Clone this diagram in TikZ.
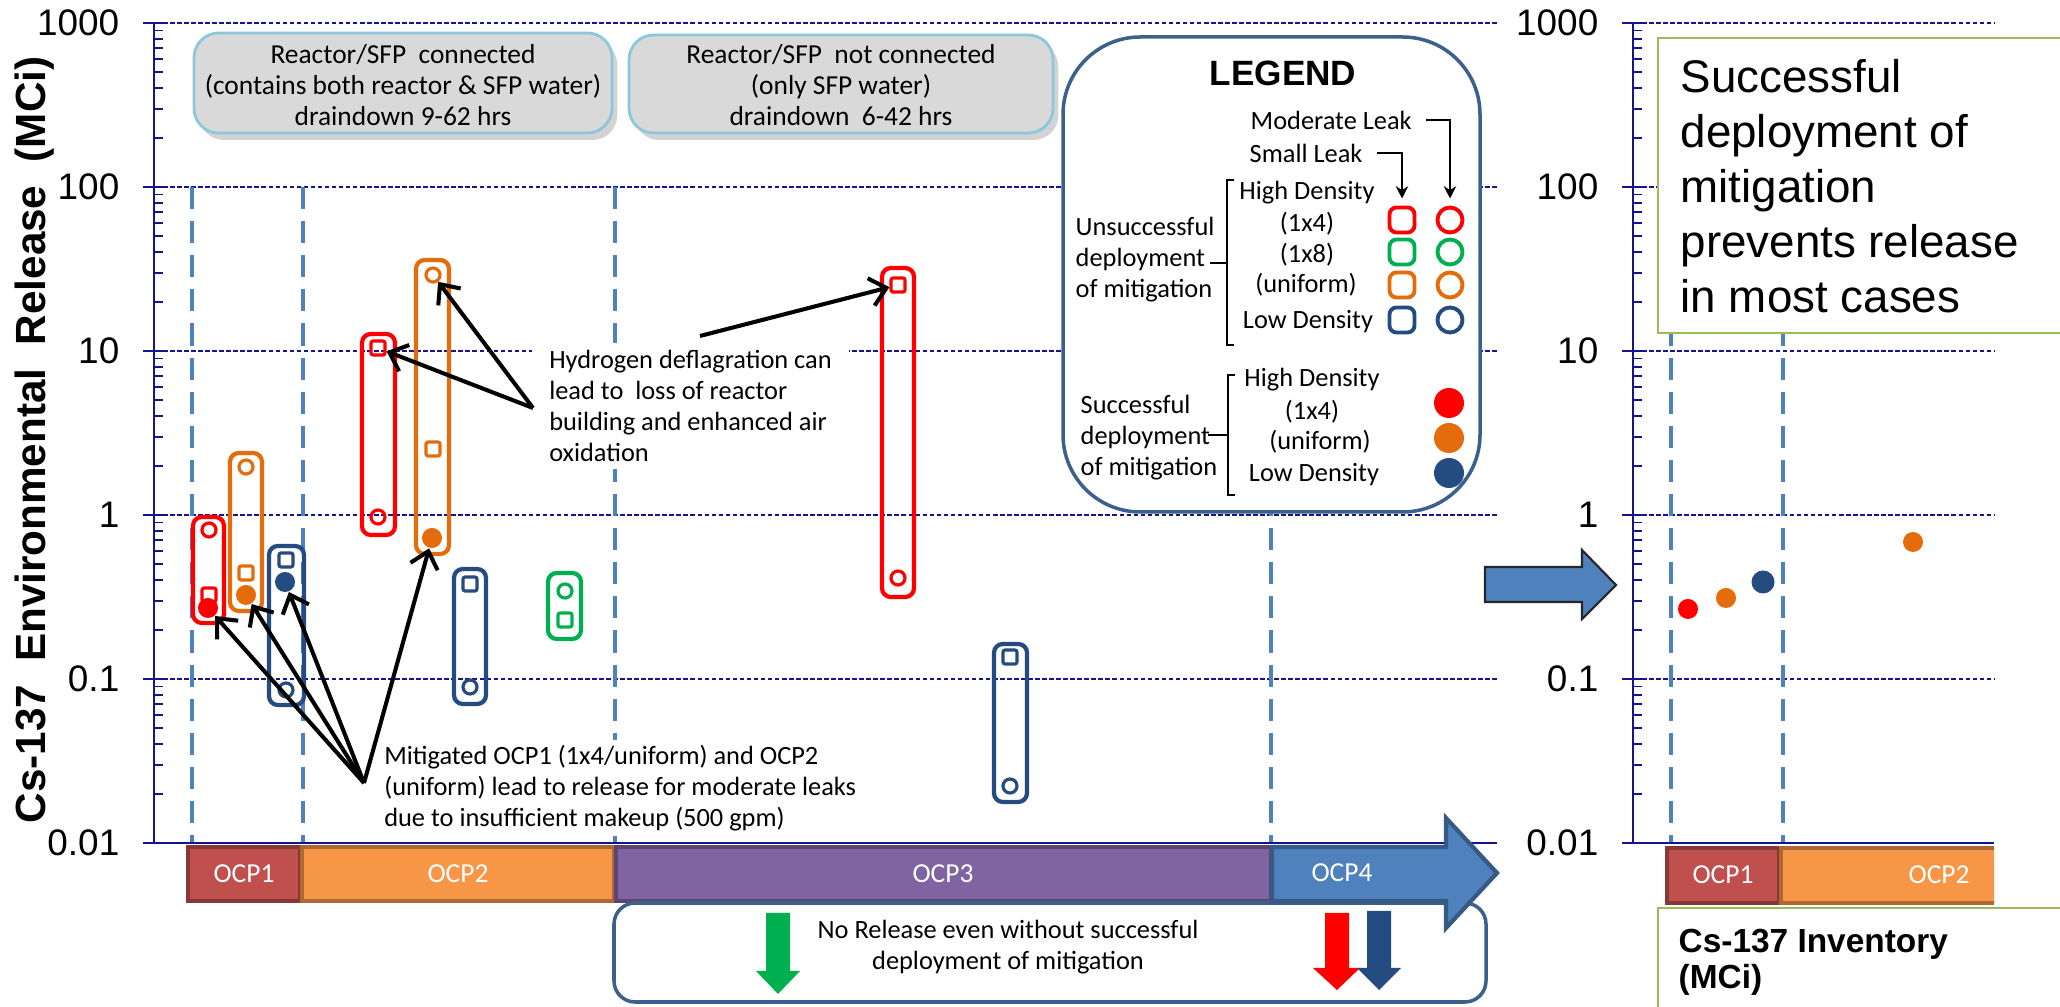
\documentclass[tikz,border=0pt]{standalone}
\usepackage{fontspec}
\setmainfont{Carlito}
\newfontfamily\arialfont{Liberation Sans}
\usetikzlibrary{arrows.meta,shadows}

\definecolor{gridnavy}{RGB}{20,20,140}
\definecolor{axisnavy}{RGB}{20,20,140}
\definecolor{dashblue}{RGB}{79,129,189}
\definecolor{mred}{RGB}{255,0,0}
\definecolor{morange}{RGB}{228,108,10}
\definecolor{mgreen}{RGB}{0,176,80}
\definecolor{mblue}{RGB}{36,76,128}
\definecolor{boxgray}{RGB}{217,217,217}
\definecolor{boxedge}{RGB}{140,200,220}
\definecolor{legedge}{RGB}{60,96,140}
\definecolor{lgreen}{RGB}{155,187,89}
\definecolor{ocpred}{RGB}{192,80,77}
\definecolor{ocporange}{RGB}{247,150,70}
\definecolor{ocppurple}{RGB}{128,100,162}
\definecolor{ocpblue}{RGB}{79,129,189}

\begin{document}
\begin{tikzpicture}[x=0.01cm, y=-0.01cm,
    gridln/.style={gridnavy, line width=0.45pt, dash pattern=on 1.3pt off 0.7pt},
    axisln/.style={axisnavy, line width=0.75pt},
    vdash/.style={dashblue, line width=0.95pt, dash pattern=on 6.3pt off 3.4pt},
    ticklbl/.style={font=\arialfont\fontsize{10.5}{12}\selectfont, anchor=east, inner sep=0pt},
    pbox/.style={draw=#1, line width=1.2pt, rounded corners=2.5pt},
    osq/.style={draw=#1, line width=0.9pt, rectangle, minimum size=0.14cm, inner sep=0pt, rounded corners=0.6pt},
    ocirc/.style={draw=#1, line width=0.9pt, circle, minimum size=0.14cm, inner sep=0pt},
    fdot/.style={fill=#1, circle, minimum size=0.20cm, inner sep=0pt},
    legmark/.style={minimum size=0.25cm, line width=1.1pt},
    legtxt/.style={font=\fontsize{7.5}{8.8}\selectfont, inner sep=0pt},
    headtxt/.style={font=\fontsize{7.8}{8.8}\selectfont, align=center},
    note/.style={font=\fontsize{7.5}{8.8}\selectfont, align=left, fill=white, inner xsep=5pt, inner ysep=2pt},
    hint/.style={-{Straight Barb[length=4.5pt,width=8pt]}, line width=1.15pt},
    ocpbar/.style={fill=#1, draw=#1!70!black, line width=1.2pt},
    ocptxt/.style={text=white, font=\fontsize{7.8}{9}\selectfont},
    headbox/.style={fill=boxgray, draw=boxedge, line width=0.8pt, rounded corners=7pt,
      drop shadow={shadow xshift=1.5pt, shadow yshift=-2pt, opacity=0.35}},
    greenbox/.style={fill=white, draw=lgreen, line width=0.6pt},
  ]
  \useasboundingbox (0,0) rectangle (2060,1007);
  \clip (0,0) rectangle (2060,1007);

  % grid lines and phase boundaries
  \foreach \d in {1,...,5}{
    \draw[gridln] (163,{843-164*\d}) -- (1497,{843-164*\d});
    \draw[gridln] (1642,{843-164*\d}) -- (1994,{843-164*\d});
  }
  \foreach \x in {192,303,615,1271,1671,1783}
    \draw[vdash] (\x,187) -- (\x,843);

  % log axes
  \foreach \ax/\xr/\nm in {154/1497/a,1633/1994/b}{
    \draw[axisln] (\ax,23) -- (\ax,843);
    \draw[axisln] (\ax-11,843) -- (\xr,843);
    \foreach \v [count=\i from 0] in {0.01,0.1,1,10,100,1000}{
      \draw[axisln] (\ax-11,{843-164*\i}) -- (\ax+9,{843-164*\i});
      \node[ticklbl] (\nm\i) at (\ax-34,{843-164*\i}) {\v};
    }
    \foreach \d in {0,...,4}\foreach \k in {2,...,9}
      \draw[axisln, line width=0.55pt] (\ax,{843-164*(\d+log10(\k))}) -- ++(9,0);
  }
  \node[rotate=90, anchor=base, inner sep=0pt, font=\arialfont\bfseries\fontsize{12}{14}\selectfont]
    (ylab) at (45,440) {Cs-137\ \ Environmental\ \ Release\ \ (MCi)};

  % header boxes
  \draw[headbox] (194,33) rectangle (612,133);
  \draw[headbox] (629,35) rectangle (1053,133);
  \node[headtxt] (conn) at (403,85) {Reactor/SFP\ \ connected\\(contains both reactor \& SFP water)\\draindown 9-62 hrs};
  \node[headtxt] (noconn) at (841,85) {Reactor/SFP\ \ not connected\\(only SFP water)\\draindown\ \ 6-42 hrs};

  % legend
  \draw[legedge, line width=1pt, fill=white, rounded corners=22pt] (1063,37) rectangle (1480,512);
  \node[font=\arialfont\bfseries\fontsize{10}{12}\selectfont] (legtitle) at (1283,73) {LEGEND};
  \node[legtxt, anchor=west] (modlk) at (1250,120) {Moderate Leak};
  \node[legtxt, anchor=west] (smlk) at (1249,153) {Small Leak};
  \node[legtxt, anchor=west, align=left] (unsc) at (1075,260) {Unsuccessful\\deployment\\of mitigation};
  \node[legtxt] (hd1) at (1307,193) {High Density};
  \node[legtxt] (x14a) at (1307,224) {(1x4)};
  \node[legtxt] (x18) at (1307,255) {(1x8)};
  \node[legtxt] (unia) at (1306,285) {(uniform)};
  \node[legtxt] (low1) at (1308,322) {Low Density};
  \node[legtxt, anchor=west, align=left] (succ) at (1080,438) {Successful\\deployment\\of mitigation};
  \node[legtxt] (hd2) at (1312,380) {High Density};
  \node[legtxt] (x14b) at (1312,412) {(1x4)};
  \node[legtxt] (unib) at (1320,442) {(uniform)};
  \node[legtxt] (low2) at (1314,475) {Low Density};
  \draw[line width=0.6pt] (1234,180) -- (1227,180) -- (1227,345) -- (1234,345) (1227,263) -- (1210,263);
  \draw[line width=0.6pt] (1235,375) -- (1228,375) -- (1228,495) -- (1235,495) (1228,435) -- (1208,435);
  \foreach \c/\y [count=\i] in {mred/220,mgreen/252,morange/285,mblue/320}{
    \node[osq=\c, legmark, rounded corners=2pt] (ls\i) at (1402,\y) {};
    \node[ocirc=\c, legmark] (lc\i) at (1450,\y) {};
  }
  \foreach \c/\y [count=\i] in {mred/403,morange/438,mblue/473}
    \node[fdot=\c, minimum size=0.30cm] (lf\i) at (1449,\y) {};
  \draw[-{Stealth[length=3.5pt,width=3.5pt]}, line width=0.5pt] ([xshift=4pt]modlk.east) -| ([yshift=2pt]lc1.north);
  \draw[-{Stealth[length=3.5pt,width=3.5pt]}, line width=0.5pt] ([xshift=4pt]smlk.east) -| ([yshift=2pt]ls1.north);

  % annotations
  \node[note, anchor=west] (hnote) at (531,406) {Hydrogen deflagration can\\lead to\ \ loss of reactor\\building and enhanced air\\oxidation};
  \node[note, anchor=west, inner ysep=1.5pt] (mnote) at (366,788) {Mitigated OCP1 (1x4/uniform) and OCP2\\(uniform) lead to release for moderate leaks\\due to insufficient makeup (500 gpm)};

  % release ranges
  \draw[pbox=mred] (193,517) rectangle (224,623);
  \draw[pbox=morange] (230,453) rectangle (262,611);
  \draw[pbox=mblue] (269,546) rectangle (304,705);
  \draw[pbox=mred] (362,334) rectangle (395,535);
  \draw[pbox=morange] (416,260) rectangle (449,554);
  \draw[pbox=mblue] (454,569) rectangle (486,704);
  \draw[pbox=mgreen] (548,573) rectangle (581,639);
  \draw[pbox=mred] (882,268) rectangle (914,597);
  \draw[pbox=mblue] (994,644) rectangle (1027,802);

  % cases
  \node[ocirc=mred] (r1c) at (209,530) {};
  \node[osq=mred] (r1s) at (209,595) {};
  \node[fdot=mred] (r1d) at (208,608) {};
  \node[ocirc=morange] (o1c) at (246,467) {};
  \node[osq=morange] (o1s) at (246,573) {};
  \node[fdot=morange] (o1d) at (246,595) {};
  \node[osq=mblue] (b1s) at (286,560) {};
  \node[fdot=mblue] (b1d) at (285,582) {};
  \node[ocirc=mblue] (b1c) at (286,690) {};
  \node[osq=mred] (r2s) at (378,348) {};
  \node[ocirc=mred] (r2c) at (378,517) {};
  \node[ocirc=morange] (o2c) at (433,275) {};
  \node[osq=morange] (o2s) at (433,449) {};
  \node[fdot=morange] (o2d) at (432,538) {};
  \node[osq=mblue] (b2s) at (470,584) {};
  \node[ocirc=mblue] (b2c) at (470,687) {};
  \node[ocirc=mgreen] (g2c) at (565,591) {};
  \node[osq=mgreen] (g2s) at (565,620) {};
  \node[osq=mred] (r3s) at (898,285) {};
  \node[ocirc=mred] (r3c) at (898,578) {};
  \node[osq=mblue] (b3s) at (1010,657) {};
  \node[ocirc=mblue] (b3c) at (1010,786) {};

  % callout arrows
  \coordinate (hfoot) at (533,408);
  \coordinate (htop) at (700,336);
  \coordinate (mfoot) at (364,783);
  \draw[hint] (hfoot) -- (r2s);
  \draw[hint] (hfoot) -- (o2c);
  \draw[hint] (htop) -- (r3s);
  \foreach \t in {r1d,o1d,b1d,o2d}
    \draw[hint] (mfoot) -- (\t);

  % operating phases
  \draw[ocpbar=ocpred] (188,847) rectangle (300,901);
  \draw[ocpbar=ocporange] (302,847) rectangle (614,901);
  \draw[ocpbar=ocppurple] (616,847) rectangle (1271,901);
  \node[ocptxt] (ocp1) at (244,874) {OCP1};
  \node[ocptxt] (ocp2) at (458,874) {OCP2};
  \node[ocptxt] (ocp3) at (943,874) {OCP3};

  % no release box
  \draw[legedge, line width=1pt, fill=white, rounded corners=6pt] (614,903) rectangle (1486,1002);
  \node[font=\fontsize{7.5}{8.8}\selectfont, align=center] (norel) at (1008,947) {No Release even without successful\\deployment of mitigation};
  \fill[mgreen] (766,913) -- (790,913) -- (790,971) -- (800,971) -- (778,994) -- (756,971) -- (766,971) -- cycle;
  \fill[mred] (1325,913) -- (1349,913) -- (1349,968) -- (1360,968) -- (1337,990) -- (1313,968) -- (1325,968) -- cycle;
  \fill[mblue] (1367,911) -- (1391,911) -- (1391,968) -- (1401,968) -- (1379,990) -- (1357,968) -- (1367,968) -- cycle;

  \draw[ocpbar=ocpblue] (1272,847) -- (1446,847) -- (1446,818) -- (1497,873) -- (1446,928) -- (1446,901) -- (1272,901) -- cycle;
  \node[ocptxt] (ocp4) at (1342,873) {OCP4};

  % right plot
  \draw[greenbox] (1658,38) rectangle (2075,333);
  \node[anchor=west, align=left, inner sep=0pt, font=\arialfont\fontsize{13}{15.6}\selectfont]
    (prev) at (1680,186) {Successful\\deployment of\\mitigation\\prevents release\\in most cases};
  \node[fdot=mred, minimum size=0.2cm] (rd1) at (1688,609) {};
  \node[fdot=morange, minimum size=0.2cm] (rd2) at (1726,598) {};
  \node[fdot=mblue, minimum size=0.23cm] (rd3) at (1763,582) {};
  \node[fdot=morange, minimum size=0.2cm] (rd4) at (1913,542) {};
  \begin{scope}
    \clip (1600,830) rectangle (1994,915);
    \draw[ocpbar=ocpred] (1667,848) rectangle (1779,903);
    \draw[ocpbar=ocporange] (1781,848) rectangle (2098,903);
    \node[ocptxt] (rocp1) at (1723,875) {OCP1};
    \node[ocptxt] (rocp2) at (1939,875) {OCP2};
  \end{scope}
  \draw[greenbox] (1658,908) rectangle (2075,1020);
  \node[anchor=west, align=left, inner sep=0pt, font=\arialfont\bfseries\fontsize{9.5}{10.2}\selectfont]
    (inv) at (1678,962) {Cs-137 Inventory\\(MCi)};

  % arrow between plots
  \draw[fill=ocpblue, draw=black!85, line width=0.6pt] (1485,567) -- (1582,567) -- (1582,550) -- (1616,585) -- (1582,619) -- (1582,602) -- (1485,602) -- cycle;
\end{tikzpicture}
\end{document}
